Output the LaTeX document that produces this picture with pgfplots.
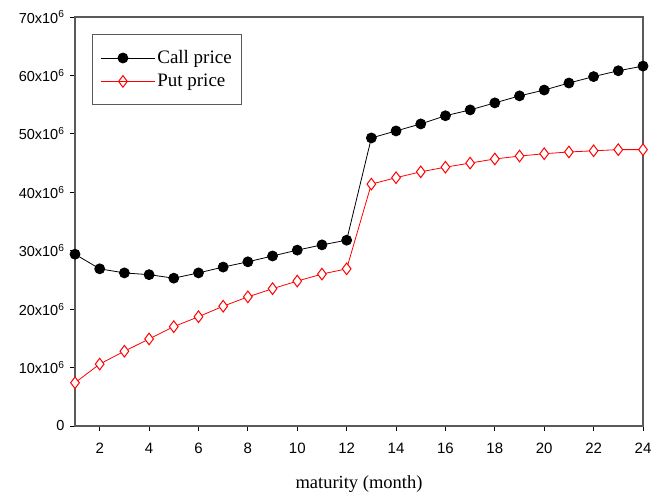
\documentclass[border=0pt]{standalone}
\usepackage{fontspec}
\setmainfont{Liberation Serif}
\newfontfamily\arial{Liberation Sans}
\usepackage{pgfplots}
\pgfplotsset{compat=1.18}
\definecolor{framegray}{HTML}{5A5A5A}

\begin{document}
\begin{tikzpicture}[x=1pt,y=1pt]
\useasboundingbox (-75,-71) rectangle (576,426);
\begin{axis}[
  scale only axis,
  width=568pt, height=409pt,
  xmin=1, xmax=24, ymin=0, ymax=70,
  xtick={2,4,...,24},
  ytick={0,10,...,70},
  yticklabels={0,10x10\textsuperscript{6},20x10\textsuperscript{6},30x10\textsuperscript{6},40x10\textsuperscript{6},50x10\textsuperscript{6},60x10\textsuperscript{6},70x10\textsuperscript{6}},
  /pgf/number format/assume math mode=true,
  tick align=outside,
  xtick pos=bottom, ytick pos=left,
  major tick length=5pt,
  tick style={black, line width=0.9pt},
  axis line style={framegray, line width=1.2pt},
  x tick label style={font=\arial\fontsize{15}{17}\selectfont, text height=11pt, text depth=0pt, yshift=-8pt},
  y tick label style={font=\arial\fontsize{14.5}{16}\selectfont, xshift=-2pt},
  xlabel={maturity (month)},
  xlabel style={font=\fontsize{18.5}{21}\selectfont, yshift=-15pt},
  legend style={
    at={(axis description cs:0.03,0.958)}, anchor=north west,
    draw=framegray, line width=1pt,
    font=\fontsize{19}{22}\selectfont,
    inner xsep=8pt, inner ysep=14pt,
    row sep=5pt,
    cells={anchor=west},
  },
  legend image code/.code={%
    \draw[#1,mark repeat=2,mark phase=2] plot coordinates {(0pt,0pt) (22pt,0pt) (44pt,0pt)};
    \path (0pt,0pt) -- (54pt,0pt);
  },
]
\addplot[black, line width=0.8pt, mark=*, mark size=5pt, mark options={fill=black}]
  coordinates {
  (1,29.4) (2,26.9) (3,26.2) (4,25.9) (5,25.3) (6,26.2) (7,27.2) (8,28.1)
  (9,29.1) (10,30.1) (11,31.0) (12,31.8) (13,49.3) (14,50.5) (15,51.7) (16,53.1)
  (17,54.1) (18,55.3) (19,56.5) (20,57.5) (21,58.7) (22,59.8) (23,60.8) (24,61.6)
  };
\addlegendentry{Call price}
\addplot[red, line width=0.8pt, mark=diamond*, mark size=5.8pt, mark options={fill=white, line width=1pt}]
  coordinates {
  (1,7.4) (2,10.6) (3,12.8) (4,14.9) (5,17.0) (6,18.7) (7,20.5) (8,22.1)
  (9,23.5) (10,24.8) (11,26.0) (12,26.9) (13,41.4) (14,42.5) (15,43.5) (16,44.3)
  (17,45.0) (18,45.7) (19,46.2) (20,46.6) (21,46.9) (22,47.1) (23,47.3) (24,47.3)
  };
\addlegendentry{Put price}
\end{axis}
\end{tikzpicture}
\end{document}
